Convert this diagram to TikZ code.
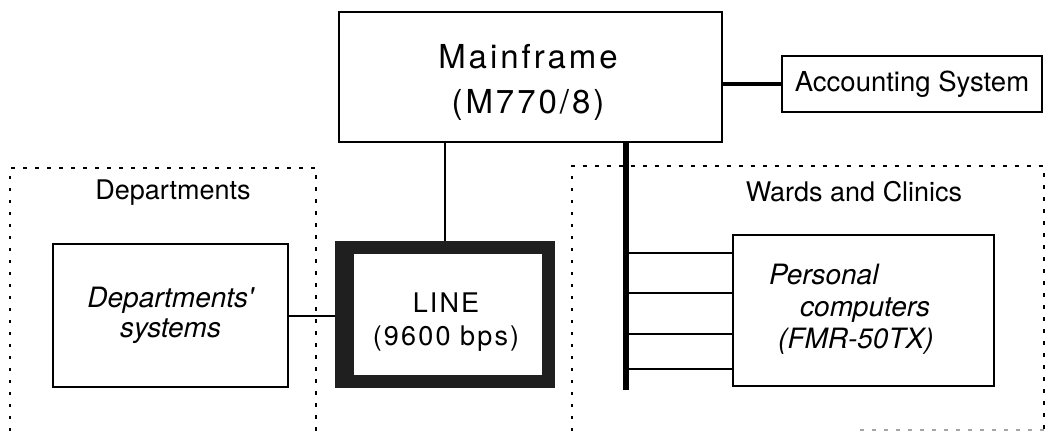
\documentclass[tikz,border=0pt]{standalone}
\usepackage{fontspec}
\setmainfont{TeX Gyre Heros}
\newfontfamily\spacedA[LetterSpace=9]{TeX Gyre Heros}
\newfontfamily\spacedB[LetterSpace=8]{TeX Gyre Heros}
\begin{document}
\begin{tikzpicture}[x=1pt,y=-1pt,
  box/.style={draw=black, line width=2pt, inner sep=0pt, fill=white, align=center},
  grp/.style={draw=black, line width=2.8pt, dash pattern=on 3.5pt off 8.5pt},
  wire/.style={draw=black, line width=2pt},
  thickwire/.style={draw=black, line width=3.5pt},
  bus/.style={draw=black, line width=6pt},
  txt/.style={inner sep=0pt, align=center},
  lbl/.style={inner sep=0pt, font=\fontsize{27}{32}\selectfont}]
\useasboundingbox (0,0) rectangle (1046,431);
% group frames
\draw[grp] (10,431) -- (10,168) -- (316,168) -- (316,431);
\draw[grp] (572,431) -- (572,166) -- (1044,166) -- (1044,431);
\draw[grp, draw=black!35, line width=1.6pt] (860,430) -- (1046,430);
\node[lbl] (deplbl) at (173,193) {Departments};
\node[lbl] (wardlbl) at (854,192) {Wards and Clinics};
% boxes
\node[box, minimum width=383pt, minimum height=130pt] (main) at (530.5,77) {};
\node[txt, font=\spacedA\fontsize{33}{45}\selectfont] (maintext) at (528,82) {Mainframe\\(M770/8)};
\node[box, minimum width=260pt, minimum height=56pt,
      font=\fontsize{27.5}{33}\selectfont] (acc) at (912,84) {Accounting System};
\node[box, minimum width=235pt, minimum height=143pt,
      font=\itshape\fontsize{28}{30}\selectfont] (dsys) at (170.5,315.5) {Departments\textquotesingle\\systems};
\node[draw=none, fill=black!88, inner sep=0pt, minimum width=220pt, minimum height=147pt] (line) at (445,314.5) {};
\node[fill=white, inner sep=0pt, minimum width=188pt, minimum height=121pt] (linein) at (448,314.5) {};
\node[txt, font=\spacedB\fontsize{27}{33}\selectfont] (linetext) at (446,322) {LINE\\(9600 bps)};
\node[box, minimum width=261pt, minimum height=151pt] (pc) at (863.5,310.5) {};
\node[inner sep=0pt, anchor=west, align=left, font=\itshape\fontsize{28}{32}\selectfont] (pctext) at (769,309)
  {Personal\\\hspace*{31pt}computers\\\hspace*{9pt}(FMR-50TX)};
% connectors
\draw[wire] (main.south -| line.north) -- (line.north);
\draw[wire] (dsys.east) -- (line.west |- dsys.east);
\draw[thickwire] (main.east |- acc.west) -- (acc.west);
\coordinate (bustop) at (626,143);
\coordinate (busbot) at (626,390);
\draw[bus] (bustop) -- (busbot);
\foreach \yy in {253,293,334,369}{
  \draw[wire] (626,\yy) -- (pc.west |- 0,\yy);
}
\end{tikzpicture}
\end{document}
